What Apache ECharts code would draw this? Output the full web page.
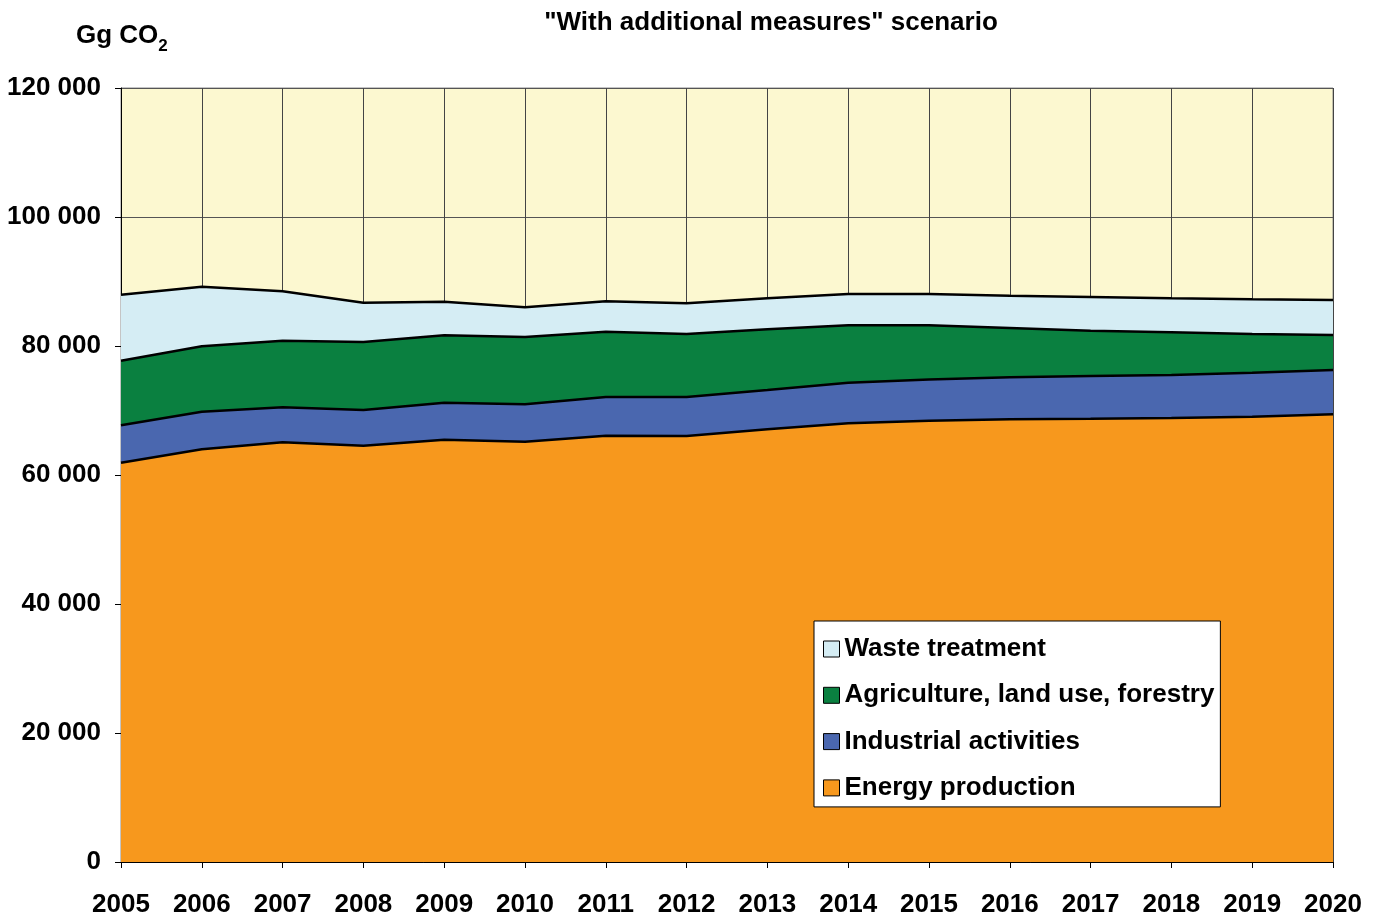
<!DOCTYPE html>
<html>
<head>
<meta charset="utf-8">
<script src="https://cdn.jsdelivr.net/npm/echarts@6/dist/echarts.min.js"></script>
<style>
html,body{margin:0;padding:0;background:#fff;}
#chart{width:1376px;height:915px;}
</style>
</head>
<body>
<div id="chart"></div>
<script>
const years = ['2005','2006','2007','2008','2009','2010','2011','2012','2013','2014','2015','2016','2017','2018','2019','2020'];
const energyProduction = [61900,64000,65070,64550,65480,65170,66100,66050,67080,68010,68420,68630,68730,68840,69040,69410];
const industrialActivities = [5810,5820,5430,5530,5730,5790,5990,6040,6100,6300,6390,6520,6620,6660,6820,6870];
const agricultureLandUse = [10010,10130,10320,10540,10450,10440,10130,9770,9410,8900,8400,7640,7020,6620,6000,5430];
const wasteTreatment = [10240,9250,7660,6100,5210,4600,4710,4760,4810,4850,4850,5010,5230,5280,5380,5420];
const seriesNames = ['Energy production','Industrial activities','Agriculture, land use, forestry','Waste treatment'];
const seriesColors = ['#F7981D','#4A67AF','#0A8040','#D5EDF4'];
const yTicks = [0,20000,40000,60000,80000,100000,120000];

const FONT = '"Liberation Sans", Arial, Helvetica, sans-serif';
const chart = echarts.init(document.getElementById('chart'));
const dataSets = [energyProduction, industrialActivities, agricultureLandUse, wasteTreatment];

function fmt(v){ return String(v).replace(/\B(?=(\d{3})+(?!\d))/g,' '); }

chart.setOption({
  animation:false,
  backgroundColor:'#fff',
  textStyle:{fontFamily:FONT},
  title:[
    {text:'"With additional measures" scenario', left:766, top:5, textAlign:'center',
     textStyle:{fontFamily:FONT,fontWeight:'bold',fontSize:26,color:'#000'}},
    {text:'{a|Gg CO}{b|2}', left:71, top:14,
     textStyle:{rich:{
       a:{fontFamily:FONT,fontWeight:'bold',fontSize:26,color:'#000',lineHeight:30,verticalAlign:'bottom'},
       b:{fontFamily:FONT,fontWeight:'bold',fontSize:17,color:'#000',lineHeight:30,verticalAlign:'bottom',padding:[0,0,-6,0]}
     }}}
  ],
  grid:{left:121,right:43,top:88,bottom:53,show:true,backgroundColor:'#FCF8D0',borderColor:'#8a8a8a',borderWidth:1,
        containLabel:false,outerBoundsMode:'none'},
  legend:{
    orient:'vertical', left:814, top:621,
    backgroundColor:'#fff', borderColor:'#000', borderWidth:1,
    padding:[13,6,4,9], itemGap:16.3, itemWidth:16, itemHeight:16,
    icon:'rect',
    textStyle:{fontFamily:FONT,fontWeight:'bold',fontSize:26,color:'#000',lineHeight:30},
    data:[3,2,1,0].map(i=>({name:seriesNames[i],icon:'rect',
      itemStyle:{color:seriesColors[i],borderColor:'#000',borderWidth:1}}))
  },
  xAxis:{
    type:'category', data:years, boundaryGap:false,
    axisLine:{lineStyle:{color:'#000',width:1}},
    axisTick:{show:true,interval:0,length:6,lineStyle:{color:'#000'}},
    axisLabel:{interval:0,margin:30,fontFamily:FONT,fontWeight:'bold',fontSize:26,color:'#000'},
    splitLine:{show:true,interval:0,lineStyle:{color:'#444',width:1}}
  },
  yAxis:{
    type:'value', min:0, max:120000, interval:20000,
    axisLine:{show:true,lineStyle:{color:'#000',width:1}},
    axisTick:{show:true,length:6,lineStyle:{color:'#000'}},
    axisLabel:{margin:20,padding:[4,0,0,0],fontFamily:FONT,fontWeight:'bold',fontSize:26,color:'#000',
      formatter:v=>fmt(v)},
    splitLine:{show:true,lineStyle:{color:'#555',width:1}}
  },
  series:dataSets.map((d,i)=>({
    name:seriesNames[i], type:'line', stack:'total', data:d,
    symbol:'none', smooth:false,
    lineStyle:{color:'#000',width:2.5},
    itemStyle:{color:seriesColors[i]},
    areaStyle:{color:seriesColors[i],opacity:1}
  }))
});
</script>
</body>
</html>
